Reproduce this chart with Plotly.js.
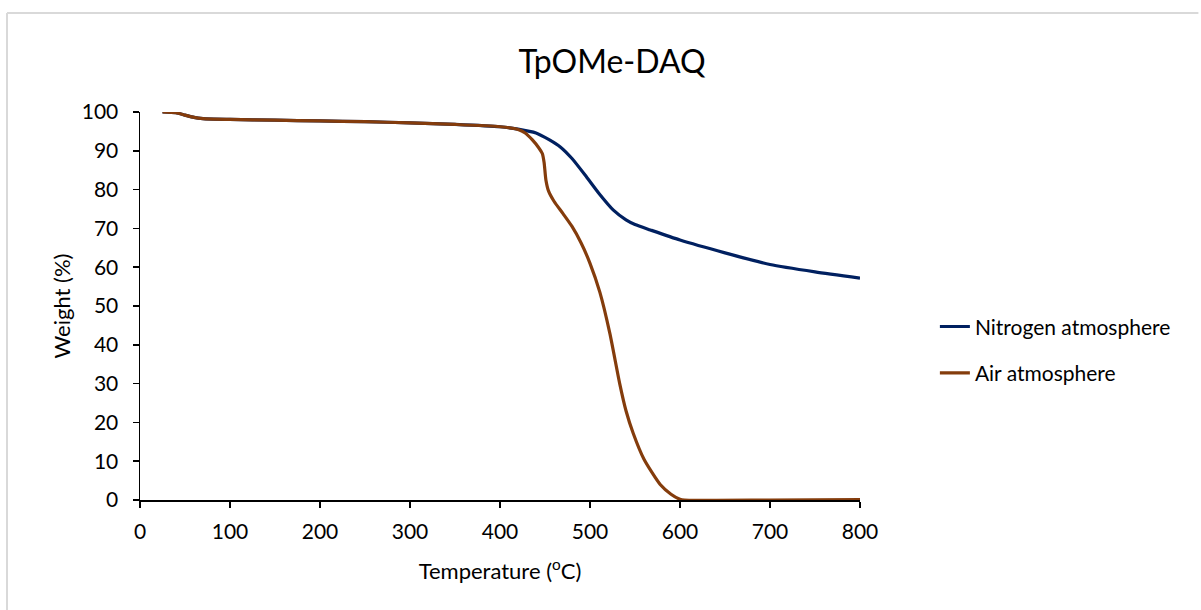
<!DOCTYPE html>
<html>
<head>
<meta charset="utf-8">
<script src="https://cdn.plot.ly/plotly-3.0.1.min.js"></script>
<style>html,body{margin:0;padding:0;background:#fff;}#chart{width:1201px;height:610px;}</style>
</head>
<body>
<div id="chart"></div>
<script>
const nitrogenTemp = [25, 40, 50, 60, 70, 100, 150, 200, 250, 300, 350, 400, 420, 440, 455, 467, 480, 496, 510, 526, 540, 550, 567, 600, 650, 700, 750, 800];
const nitrogenWeight = [100, 99.8, 99.2, 98.6, 98.3, 98.1, 97.9, 97.7, 97.5, 97.2, 96.8, 96.2, 95.6, 94.6, 92.8, 91, 88, 83.3, 79, 74.7, 72.2, 71, 69.6, 67, 63.7, 60.7, 58.8, 57.2];
const airTemp = [25, 40, 50, 60, 70, 100, 150, 200, 250, 300, 350, 400, 420, 428, 436, 443, 447, 449, 451, 454, 460, 470, 480, 490, 500, 511, 522, 533, 540, 548, 560, 578, 590, 600, 605, 700, 800];
const airWeight = [100, 99.8, 99.2, 98.6, 98.3, 98.1, 97.9, 97.7, 97.5, 97.2, 96.8, 96.2, 95.5, 94.6, 92.8, 90.8, 89.3, 87, 82.5, 79.6, 77, 73.8, 70.5, 66.3, 61, 53.5, 43, 30, 23, 17.2, 10.5, 4, 1.5, 0.2, 0, 0, 0.1];
const seriesNames = ["Nitrogen atmosphere", "Air atmosphere"];
const xTicks = [0, 100, 200, 300, 400, 500, 600, 700, 800];
const yTicks = [0, 10, 20, 30, 40, 50, 60, 70, 80, 90, 100];

const font = "Lato, 'Open Sans', sans-serif";
const traces = [
  {x: nitrogenTemp, y: nitrogenWeight, name: seriesNames[0], mode: "lines", legendgroup: "a",
   line: {color: "#002060", width: 3.2, shape: "spline", smoothing: 0.6}},
  {x: airTemp, y: airWeight, name: seriesNames[1], mode: "lines", legendgroup: "b",
   line: {color: "#843C0C", width: 3.2, shape: "spline", smoothing: 0.6}}
];
const layout = {
  width: 1201, height: 610,
  margin: {l: 140, r: 341, t: 112, b: 110},
  paper_bgcolor: "#fff", plot_bgcolor: "#fff",
  font: {family: font, color: "#000", size: 22},
  title: {text: "TpOMe-DAQ", font: {size: 32, family: font, color: "#000"}, x: 0.5096, xref: "container", xanchor: "center", y: 0.898, yanchor: "middle"},
  xaxis: {range: [0, 800], tickvals: xTicks, ticks: "outside", ticklen: 6, tickcolor: "#000", tickwidth: 1.5,
    showline: true, linecolor: "#000", linewidth: 1.5, showgrid: false, zeroline: false,
    tickfont: {size: 21, family: font}, ticklabelstandoff: 6, fixedrange: true,
    title: {text: "Temperature (<sup>o</sup>C)", font: {size: 22, family: font}, standoff: 22}},
  yaxis: {range: [0, 100], tickvals: yTicks, ticks: "outside", ticklen: 6, tickcolor: "#000", tickwidth: 1.5,
    showline: true, linecolor: "#000", linewidth: 1.5, showgrid: false, zeroline: false,
    tickfont: {size: 21, family: font}, ticklabelstandoff: 10, fixedrange: true,
    title: {text: "Weight (%)", font: {size: 22, family: font}, standoff: 5}},
  showlegend: true,
  legend: {x: 1.104, xanchor: "left", y: 0.387, yanchor: "middle", traceorder: "grouped", tracegroupgap: 16,
    font: {size: 21, family: font}, bgcolor: "rgba(0,0,0,0)", itemwidth: 30},
  shapes: [
    {type: "line", xref: "paper", yref: "paper", x0: -0.1847, x1: 1.47, y0: 1.2552, y1: 1.2552, line: {color: "#d9d9d9", width: 2}},
    {type: "line", xref: "paper", yref: "paper", x0: -0.1847, x1: -0.1847, y0: 1.2552, y1: -0.3, line: {color: "#d9d9d9", width: 2}}
  ]
};
Plotly.newPlot("chart", traces, layout, {displayModeBar: false, staticPlot: true});
</script>
</body>
</html>
